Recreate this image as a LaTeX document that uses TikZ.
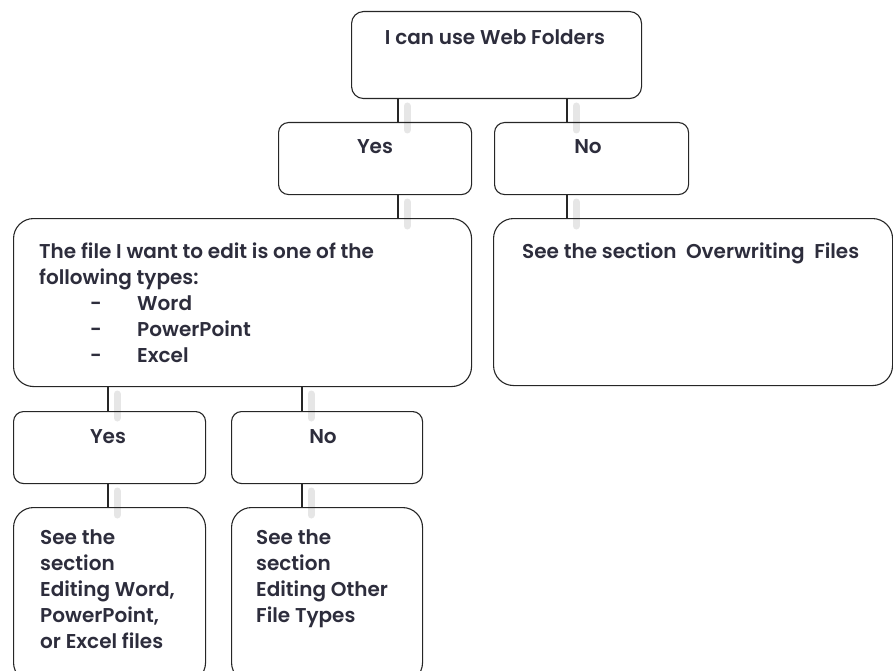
\documentclass[tikz,border=0pt]{standalone}
\usepackage{fontspec}
\IfFontExistsTF{Poppins SemiBold}
	{\setmainfont{Poppins}[BoldFont={Poppins SemiBold}]}
	{\setmainfont{Poppins}}
\usetikzlibrary{positioning}
\definecolor{ink}{RGB}{45,45,60}
\tikzset{
	box/.style={draw=black!85, line width=1.1pt, anchor=north west, inner sep=0pt},
	small/.style={box, rounded corners=10pt, minimum height=72pt},
	big/.style={box, rounded corners=20pt},
	txt/.style={text=ink, inner sep=0pt, align=left, font=\fontsize{20}{26}\selectfont\bfseries},
	link/.style={draw=black!85, line width=1.1pt},
	glow/.style={draw=black!14, line width=7pt, line cap=round, opacity=0.7}
}
\newcommand{\listitem}[1]{\hspace*{51pt}\makebox[47pt][l]{-}#1}
\begin{document}
\begin{tikzpicture}[x=1pt, y=-1pt]
	\useasboundingbox (0,0) rectangle (893,671);
	% soft shadows beside the links
	\foreach \x/\y in {398/98, 567/98, 398/194, 567/194, 108/386, 302/386, 108/483, 302/483}
		\draw[glow] (\x+9,\y+8) -- (\x+9,\y+32);
	% boxes
	\node[box, rounded corners=12pt, minimum width=290pt, minimum height=87pt] (web) at (351,11) {};
	\node[small, minimum width=193pt] (yes1) at (278,122) {};
	\node[small, minimum width=194pt] (no1) at (494,122) {};
	\node[big, minimum width=458pt, minimum height=168pt] (types) at (13,218) {};
	\node[big, minimum width=399pt, minimum height=167pt] (over) at (493,218) {};
	\node[small, minimum width=192pt] (yes2) at (13,411) {};
	\node[small, minimum width=191pt] (no2) at (231,411) {};
	\node[big, minimum width=192pt, minimum height=175pt] (edword) at (13,507) {};
	\node[big, minimum width=191pt, minimum height=175pt] (edother) at (231,507) {};
	% links
	\draw[link] (web.south -| 398,0) -- (yes1.north -| 398,0);
	\draw[link] (web.south -| 567,0) -- (no1.north -| 567,0);
	\draw[link] (yes1.south -| 398,0) -- (types.north -| 398,0);
	\draw[link] (no1.south -| 567,0) -- (over.north -| 567,0);
	\draw[link] (types.south -| 108,0) -- (yes2.north -| 108,0);
	\draw[link] (types.south -| 302,0) -- (no2.north -| 302,0);
	\draw[link] (yes2.south -| 108,0) -- (edword.north -| 108,0);
	\draw[link] (no2.south -| 302,0) -- (edother.north -| 302,0);
	% texts (multi-line ones sit on the baseline of their last line)
	\node[txt, anchor=base] (webtxt) at (495,45) {I can use Web Folders};
	\node[txt, anchor=base] (yes1txt) at (375,154) {Yes};
	\node[txt, anchor=base] (no1txt) at (588,154) {No};
	\node[txt, anchor=base west] (typestxt) at (39,362) {The file I want to edit is one of the\\following types:\\\listitem{Word}\\\listitem{PowerPoint}\\\listitem{Excel}};
	\node[txt, anchor=base west] (overtxt) at (522,258) {See the section\ \ Overwriting\ \ Files};
	\node[txt, anchor=base] (yes2txt) at (108,443) {Yes};
	\node[txt, anchor=base] (no2txt) at (323,443) {No};
	\node[txt, anchor=base west] (edwordtxt) at (40,648) {See the\\section\\Editing Word,\\PowerPoint,\\or Excel files};
	\node[txt, anchor=base west] (edothertxt) at (256,622) {See the\\section\\Editing Other\\File Types};
\end{tikzpicture}
\end{document}
